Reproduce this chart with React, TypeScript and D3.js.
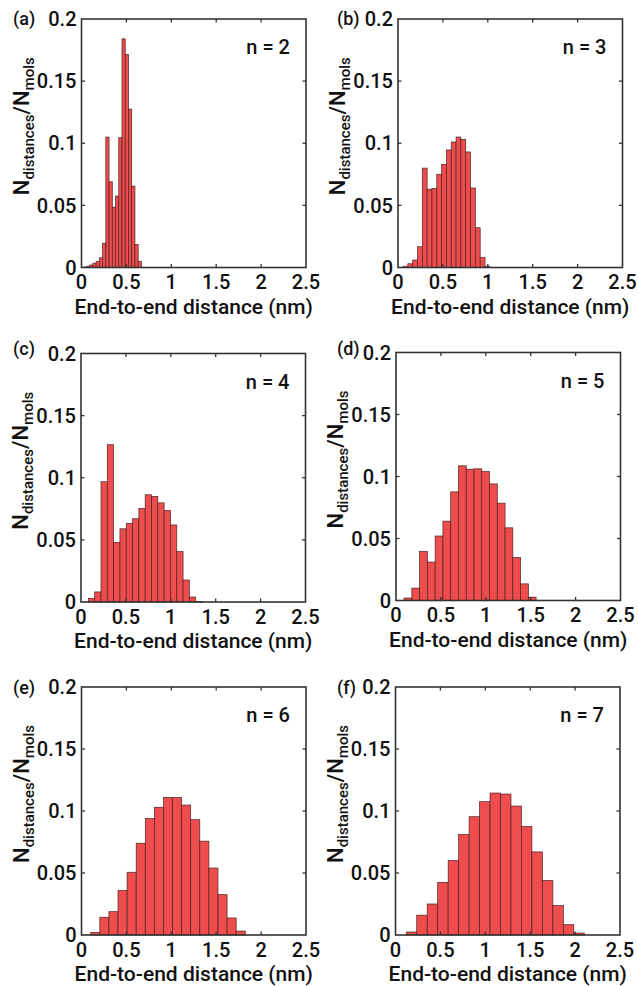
import React from "react";
import * as d3 from "d3";

// ---- data ----
const panelLabels = ["(a)", "(b)", "(c)", "(d)", "(e)", "(f)"];
const chainLengths = [2, 3, 4, 5, 6, 7];
const binStarts = [0.019, 0.056, 0.082, 0.09, 0.103, 0.12];
const binWidths = [0.036, 0.0537, 0.0703, 0.0865, 0.1012, 0.1166];

const valuesN2 = [0.0003, 0.001, 0.002, 0.0035, 0.005, 0.0078, 0.0195, 0.105, 0.069, 0.0485, 0.0575, 0.1045, 0.184, 0.1715, 0.1275, 0.0655, 0.0185, 0.005];
const valuesN3 = [0.001, 0.003, 0.006, 0.0167, 0.08, 0.063, 0.0637, 0.075, 0.083, 0.0946, 0.101, 0.105, 0.103, 0.093, 0.064, 0.032, 0.008, 0.001];
const valuesN4 = [0.003, 0.0081, 0.0968, 0.1266, 0.048, 0.0589, 0.0632, 0.067, 0.0753, 0.0863, 0.085, 0.0798, 0.0737, 0.062, 0.0406, 0.0177, 0.004, 0.0004];
const valuesN5 = [0.002, 0.01, 0.0395, 0.031, 0.052, 0.064, 0.0876, 0.1086, 0.1059, 0.1062, 0.104, 0.094, 0.0785, 0.0586, 0.0347, 0.0134, 0.0027];
const valuesN6 = [0.002, 0.0143, 0.0188, 0.036, 0.0506, 0.074, 0.094, 0.103, 0.111, 0.111, 0.1048, 0.093, 0.0757, 0.054, 0.0325, 0.0137, 0.0032];
const valuesN7 = [0.0024, 0.016, 0.025, 0.0425, 0.06, 0.081, 0.0954, 0.1075, 0.1145, 0.1137, 0.104, 0.0876, 0.067, 0.044, 0.0237, 0.0083, 0.0016];
const panelValues = [valuesN2, valuesN3, valuesN4, valuesN5, valuesN6, valuesN7];

const xTicks = [0, 0.5, 1, 1.5, 2, 2.5];
const xTickLabels = ["0", "0.5", "1", "1.5", "2", "2.5"];
const yTicks = [0, 0.05, 0.1, 0.15, 0.2];
const yTickLabels = ["0", "0.05", "0.1", "0.15", "0.2"];
const xAxisTitle = "End-to-end distance (nm)";

// ---- layout ----
const boxes = [
  { left: 81.5, right: 306, top: 19, bottom: 267.5 },
  { left: 398, right: 622.5, top: 19, bottom: 267.5 },
  { left: 81, right: 305.5, top: 353.5, bottom: 602 },
  { left: 396, right: 620.5, top: 352.5, bottom: 600.5 },
  { left: 81.5, right: 306, top: 687, bottom: 935 },
  { left: 395.5, right: 620, top: 687, bottom: 935 },
];

const FONT = "Roboto, 'Open Sans', sans-serif";
const AXIS_COLOR = "#333";
const BAR_FILL = "#ef4d4d";
const BAR_STROKE = "#4a2424";

function Panel({ idx }: { idx: number }) {
  const b = boxes[idx];
  const x = d3.scaleLinear().domain([0, 2.5]).range([b.left, b.right]);
  const y = d3.scaleLinear().domain([0, 0.2]).range([b.bottom, b.top]);
  const vals = panelValues[idx];
  const start = binStarts[idx];
  const w = binWidths[idx];
  const tl = 3.5;
  const midY = (b.top + b.bottom) / 2 - 17;
  return (
    <g>
      {vals.map((v, i) => {
        const x0 = x(start + i * w);
        const x1 = x(start + (i + 1) * w);
        return (
          <rect
            key={i}
            x={x0}
            y={y(v)}
            width={x1 - x0}
            height={y(0) - y(v)}
            fill={BAR_FILL}
            stroke={BAR_STROKE}
            strokeWidth={0.7}
          />
        );
      })}
      {xTicks.slice(1, -1).map((t, i) => (
        <g key={"xt" + i}>
          <line x1={x(t)} x2={x(t)} y1={b.bottom} y2={b.bottom - tl} stroke={AXIS_COLOR} strokeWidth={1.3} />
          <line x1={x(t)} x2={x(t)} y1={b.top} y2={b.top + tl} stroke={AXIS_COLOR} strokeWidth={1.3} />
        </g>
      ))}
      {yTicks.slice(1, -1).map((t, i) => (
        <g key={"yt" + i}>
          <line x1={b.left} x2={b.left + tl} y1={y(t)} y2={y(t)} stroke={AXIS_COLOR} strokeWidth={1.3} />
          <line x1={b.right} x2={b.right - tl} y1={y(t)} y2={y(t)} stroke={AXIS_COLOR} strokeWidth={1.3} />
        </g>
      ))}
      <rect
        x={b.left}
        y={b.top}
        width={b.right - b.left}
        height={b.bottom - b.top}
        fill="none"
        stroke={AXIS_COLOR}
        strokeWidth={1.6}
      />
      {xTicks.map((t, i) => (
        <text
          key={"xl" + i}
          x={x(t)}
          y={b.bottom + 21.5}
          textAnchor="middle"
          fontFamily={FONT}
          fontSize={20}
          fontWeight={500}
          fill="#111"
        >
          {xTickLabels[i]}
        </text>
      ))}
      {yTicks.map((t, i) => (
        <text
          key={"yl" + i}
          x={b.left - 5}
          y={y(t)}
          dy="0.36em"
          textAnchor="end"
          fontFamily={FONT}
          fontSize={20}
          fontWeight={500}
          fill="#111"
        >
          {yTickLabels[i]}
        </text>
      ))}
      <text
        x={(b.left + b.right) / 2}
        y={b.bottom + 46}
        textAnchor="middle"
        fontFamily={FONT}
        fontSize={21}
        fontWeight={500}
        fill="#111"
      >
        {xAxisTitle}
      </text>
      <text
        transform={`translate(${b.left - 53},${midY}) rotate(-90)`}
        textAnchor="middle"
        fontFamily={FONT}
        fontWeight={500}
        fill="#111"
      >
        <tspan fontSize={22}>N</tspan>
        <tspan fontSize={15} dy={5}>distances</tspan>
        <tspan fontSize={22} dy={-5}>/N</tspan>
        <tspan fontSize={15} dy={5}>mols</tspan>
      </text>
      <text
        x={b.right - 16}
        y={b.top + 35}
        textAnchor="end"
        fontFamily={FONT}
        fontSize={20}
        fontWeight={500}
        fill="#111"
      >
        {`n = ${chainLengths[idx]}`}
      </text>
      <text
        x={idx % 2 === 0 ? 13 : 337}
        y={idx < 2 ? 25 : idx < 4 ? 355 : 694}
        fontFamily={FONT}
        fontSize={18}
        fontWeight={500}
        fill="#111"
      >
        {panelLabels[idx]}
      </text>
    </g>
  );
}

export default function App() {
  return (
    <svg
      width={638}
      height={986}
      style={{ position: "absolute", left: 0, top: 0, background: "#fff", display: "block" }}
    >
      <rect x={0} y={0} width={638} height={986} fill="#fff" />
      {panelLabels.map((_, i) => (
        <Panel key={i} idx={i} />
      ))}
    </svg>
  );
}
